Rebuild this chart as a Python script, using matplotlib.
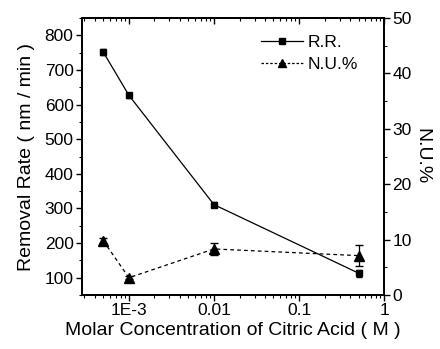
import matplotlib
matplotlib.use("Agg")
import matplotlib.pyplot as plt
import matplotlib.ticker as mticker
from matplotlib.lines import Line2D

plt.rcParams["font.family"] = ["Liberation Sans", "DejaVu Sans"]

# dados
concentracao = [5e-4, 1e-3, 0.01, 0.5]
taxa_remocao = [752, 627, 311, 113]
erro_taxa = [8, 7, 7, 10]
nu_pct = [9.8, 3.1, 8.3, 7.1]
erro_nu = [0.4, 0.3, 1.1, 1.9]

fig = plt.figure(figsize=(4.4, 3.49), dpi=100)
ax = fig.add_axes([0.186, 0.155, 0.687, 0.793])
ax2 = ax.twinx()

ax.errorbar(concentracao, taxa_remocao, yerr=erro_taxa, color="black",
            marker="s", markersize=5, linewidth=0.9, capsize=2.5,
            elinewidth=0.9)
ax2.errorbar(concentracao, nu_pct, yerr=erro_nu, color="black",
             marker="^", markersize=7, linewidth=0.9, linestyle="--",
             dashes=(3, 2.5), capsize=3, elinewidth=0.9)

ax.set_xscale("log")
ax.set_xlim(2.8e-4, 1)
ax.set_ylim(50, 850)
ax2.set_ylim(0, 50)

ax.xaxis.set_major_locator(mticker.FixedLocator([1e-3, 1e-2, 1e-1, 1]))
ax.xaxis.set_major_formatter(mticker.FixedFormatter(["1E-3", "0.01", "0.1", "1"]))
ax.xaxis.set_minor_locator(mticker.LogLocator(base=10, subs=range(2, 10)))
ax.xaxis.set_minor_formatter(mticker.NullFormatter())

ax.yaxis.set_major_locator(mticker.MultipleLocator(100))
ax.yaxis.set_minor_locator(mticker.MultipleLocator(50))
ax2.yaxis.set_major_locator(mticker.MultipleLocator(10))
ax2.yaxis.set_minor_locator(mticker.MultipleLocator(5))

ax.tick_params(axis="both", which="major", direction="out", length=4,
               width=1, labelsize=12.5, pad=2)
ax.tick_params(axis="both", which="minor", direction="out", length=2.5,
               width=0.8)
ax2.tick_params(axis="y", which="major", direction="out", length=4,
                width=1, labelsize=12.5, pad=2)
ax2.tick_params(axis="y", which="minor", direction="out", length=2.5, width=0.8)

# ticks do topo para dentro
sec = ax.secondary_xaxis("top")
sec.set_xticks([1e-3, 1e-2, 1e-1, 1])
sec.xaxis.set_minor_locator(mticker.LogLocator(base=10, subs=range(2, 10)))
sec.tick_params(which="major", direction="in", length=4, width=1, labeltop=False)
sec.tick_params(which="minor", direction="in", length=2.5, width=0.8)
sec.xaxis.set_minor_formatter(mticker.NullFormatter())
sec.spines["top"].set_linewidth(1.3)

for s in ax.spines.values():
    s.set_linewidth(1.3)
for s in ax2.spines.values():
    s.set_linewidth(1.3)

ax.set_xlabel("Molar Concentration of Citric Acid ( M )", fontsize=14, labelpad=3)
ax.set_ylabel("Removal Rate ( nm / min )", fontsize=14, labelpad=7)
ax2.set_ylabel("N.U.%", fontsize=14, rotation=270, labelpad=13)

h1 = Line2D([], [], color="black", marker="s", markersize=4, linewidth=0.9)
h2 = Line2D([], [], color="black", marker="^", markersize=6, linewidth=0.9,
            linestyle="--", dashes=(2, 1.5))
ax2.legend([h1, h2], ["R.R.", "N.U.%"], loc="upper right",
           bbox_to_anchor=(0.955, 0.985), frameon=False, fontsize=12.5,
           numpoints=1, handlelength=2.4, handletextpad=0.3,
           labelspacing=0.4, borderaxespad=0.3)

fig.savefig("out.png", dpi=100, facecolor="white")
